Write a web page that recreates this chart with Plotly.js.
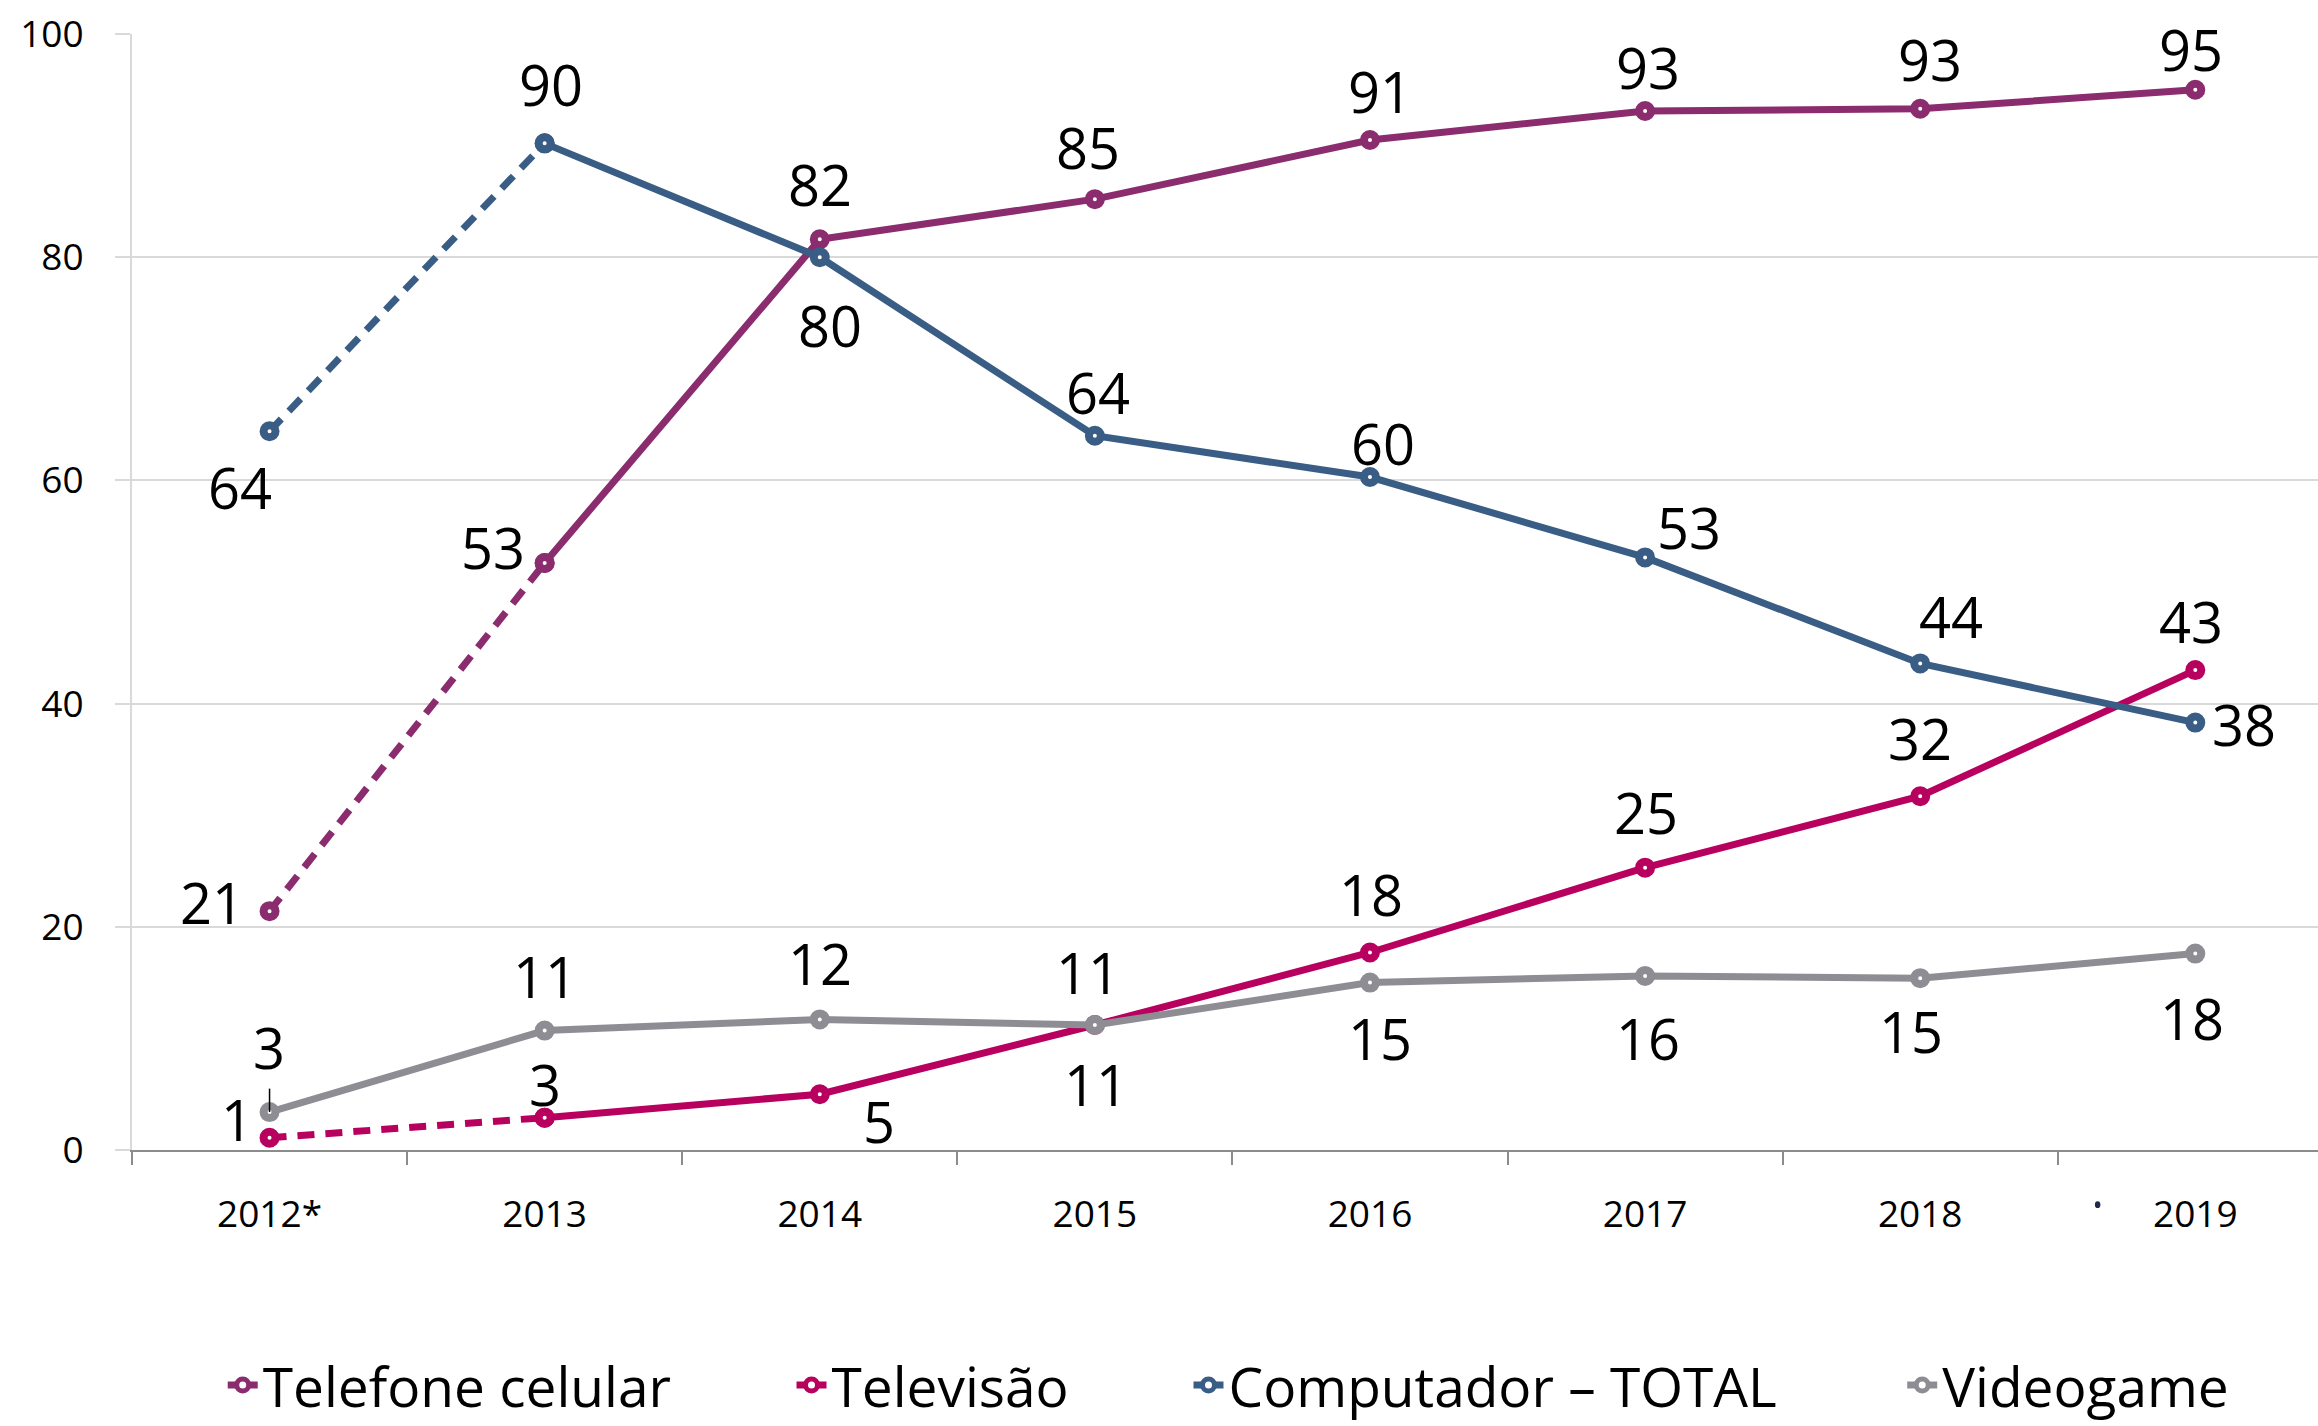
<!DOCTYPE html>
<html>
<head>
<meta charset="utf-8">
<script src="https://cdn.plot.ly/plotly-3.0.1.min.js"></script>
<style>html,body{margin:0;padding:0;background:#fff;}#chart{width:2318px;height:1426px;}</style>
</head>
<body>
<div id="chart"></div>
<script>
// ---- data ----
const years = ['2012*', '2013', '2014', '2015', '2016', '2017', '2018', '2019'];
const celular = [21.4, 52.6, 81.6, 85.2, 90.5, 93.1, 93.3, 95.0];
const televisao = [1.1, 2.9, 5.0, 11.2, 17.7, 25.3, 31.7, 43.0];
const computador = [64.4, 90.2, 80.0, 64.0, 60.3, 53.1, 43.6, 38.3];
const videogame = [3.4, 10.7, 11.7, 11.2, 15.0, 15.6, 15.4, 17.6];
const seriesNames = ['Telefone celular', 'Televisão', 'Computador – TOTAL', 'Videogame'];
const dashedFirst = [true, true, true, false];
const yTicks = [0, 20, 40, 60, 80, 100];

// ---- styles / label offsets (px: dx, dy down) ----
const colors = ['#8A2C6E', '#B8005F', '#395D84', '#8F8D94'];
const labelOffsets = [
  [[-58,-9],[-52,-16],[0,-55],[-7,-52],[10,-49],[3,-44],[10,-50],[-4,-41]],
  [[-33,-19],[0,-34],[59,27],[1,59],[1,-58],[1,-56],[0,-58],[-4,-49]],
  [[-30,56],[6,-59],[10,68],[3,-44],[13,-34],[44,-30],[31,-47],[49,1]],
  [[-1,-65],[0,-55],[0,-56],[-7,-53],[10,55],[3,62],[-9,53],[-3,64]]
];
const legendX = [0.0415, 0.3017, 0.4833, 0.8098];

const allSeries = [celular, televisao, computador, videogame];
const FONT = 'Open Sans, Noto Sans, sans-serif';

const traces = [];
const annotations = [];
allSeries.forEach((vals, s) => {
  const marker = {symbol: 'circle', size: 12, color: '#ffffff', line: {color: colors[s], width: 8}};
  const start = dashedFirst[s] ? 1 : 0;
  if (dashedFirst[s]) {
    traces.push({
      x: years.slice(0, 2), y: vals.slice(0, 2), type: 'scatter', mode: 'lines+markers',
      line: {color: colors[s], width: 7, dash: '17px,11px'}, marker: marker,
      showlegend: false, hoverinfo: 'skip', cliponaxis: false
    });
  }
  traces.push({
    x: years.slice(start), y: vals.slice(start), type: 'scatter', mode: 'lines+markers',
    name: seriesNames[s], line: {color: colors[s], width: 7}, marker: marker,
    legend: s === 0 ? 'legend' : 'legend' + (s + 1), cliponaxis: false
  });
  vals.forEach((v, i) => {
    annotations.push({
      x: i, y: v, xref: 'x', yref: 'y', text: String(Math.round(v)),
      showarrow: false, xanchor: 'center', yanchor: 'middle',
      xshift: labelOffsets[s][i][0], yshift: -labelOffsets[s][i][1],
      font: {family: FONT, size: 56, color: '#000000'}
    });
  });
});

const legendBase = {
  orientation: 'h', yref: 'container', y: 0.0285, yanchor: 'middle', xanchor: 'left',
  font: {family: FONT, size: 55, color: '#000000'}, bgcolor: 'rgba(0,0,0,0)', borderwidth: 0
};
const layout = {
  width: 2318, height: 1426,
  margin: {l: 131.6, r: 0, t: 34, b: 276},
  paper_bgcolor: '#ffffff', plot_bgcolor: '#ffffff',
  font: {family: FONT, color: '#000000'},
  showlegend: true,
  xaxis: {
    type: 'category', range: [-0.5, 7.446], categoryarray: years, categoryorder: 'array',
    showgrid: false, zeroline: false,
    showline: true, linecolor: '#8C8C8C', linewidth: 2,
    ticks: 'outside', tickson: 'boundaries', ticklen: 13, tickcolor: '#8C8C8C', tickwidth: 2,
    tickfont: {family: FONT, size: 37, color: '#000000'}, ticklabelstandoff: 31, fixedrange: true
  },
  yaxis: {
    range: [0, 100], tickvals: yTicks, ticktext: yTicks.map(String),
    showgrid: true, gridcolor: '#D9D9D9', gridwidth: 2, zeroline: false,
    showline: true, linecolor: '#D9D9D9', linewidth: 2,
    ticks: 'outside', ticklen: 15, tickcolor: '#D9D9D9', tickwidth: 2,
    tickfont: {family: FONT, size: 37, color: '#000000'}, ticklabelstandoff: 24, fixedrange: true
  },
  legend: Object.assign({}, legendBase, {x: legendX[0]}),
  legend2: Object.assign({}, legendBase, {x: legendX[1]}),
  legend3: Object.assign({}, legendBase, {x: legendX[2]}),
  legend4: Object.assign({}, legendBase, {x: legendX[3]}),
  annotations: annotations,
  shapes: [
    {type: 'line', xref: 'x', yref: 'y', x0: 0, x1: 0, y0: videogame[0], y1: videogame[0] + 2.1,
     line: {color: '#000000', width: 1.5}},
    {type: 'circle', xref: 'x', yref: 'paper', x0: 6.635, x1: 6.655, y0: -0.052, y1: -0.046,
     fillcolor: '#1F2A44', line: {width: 0}}
  ]
};

Plotly.newPlot('chart', traces, layout, {displayModeBar: false, staticPlot: true});
</script>
</body>
</html>
